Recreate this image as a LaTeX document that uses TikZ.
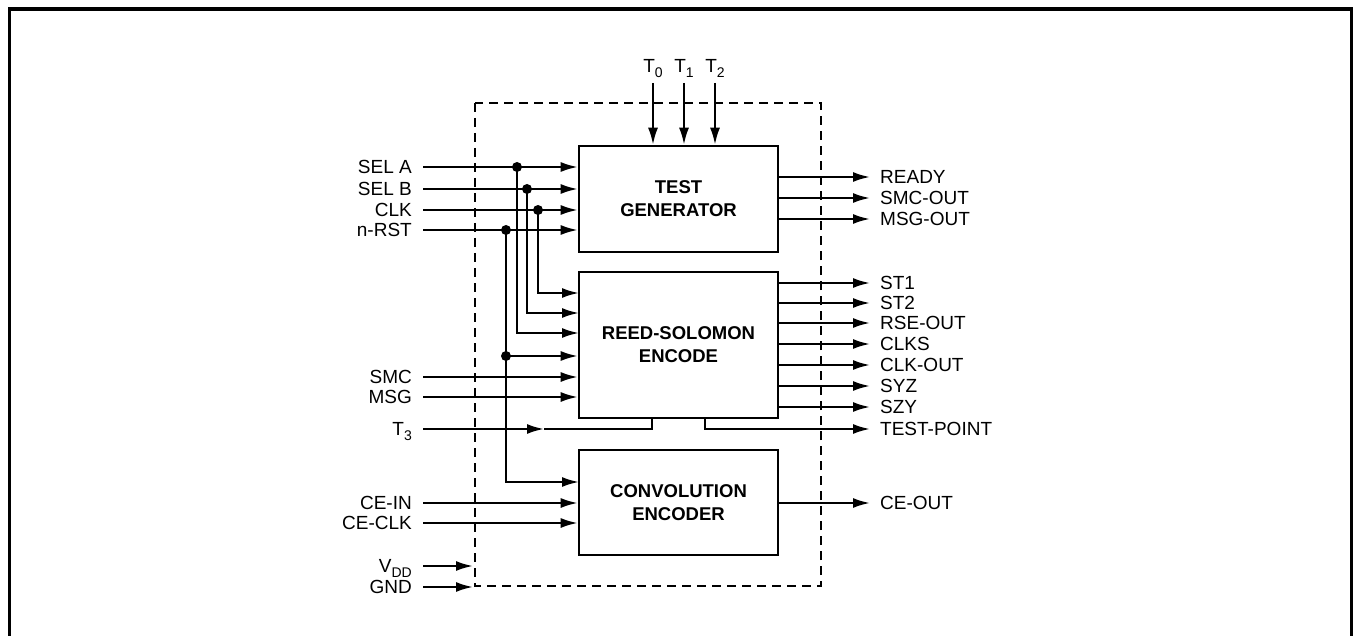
\documentclass[tikz,border=0pt]{standalone}
\usepackage{fontspec}
\setmainfont{Liberation Sans}
\usetikzlibrary{arrows.meta}
\newcommand\lowsub[1]{\raisebox{-4.5pt}{\fontsize{14}{14}\selectfont #1}}
\begin{document}
\begin{tikzpicture}[x=1pt,y=-1pt,
  sig/.style={line width=2.1pt},
  arr/.style={sig,-{Latex[length=17pt,width=10pt]}},
  blk/.style={draw,line width=2.6pt,inner sep=0pt,align=center,
    font=\fontsize{18.5}{23}\selectfont\bfseries,minimum width=199pt},
  lbl/.style={inner sep=0pt,text height=13pt,text depth=0pt,
    font=\fontsize{19}{22}\selectfont},
  inl/.style={lbl,anchor=east},
  outl/.style={lbl,anchor=west},
  dot/.style={circle,fill,inner sep=0pt,minimum size=10pt},
  dbox/.style={draw,dash pattern=on 9pt off 6pt,line width=2.2pt}]
\useasboundingbox (0,0) rectangle (1356,636);
% outer frame
\draw[line width=3.6pt] (9.5,645) -- (9.5,9) -- (1351.5,9) -- (1351.5,645);
% dashed package outline
\draw[dbox] (475,103) rectangle (821,586);
% blocks
\node[blk,minimum height=106pt] (tg) at (678.5,199) {TEST\\GENERATOR};
\node[blk,minimum height=146pt] (rs) at (678.5,345) {REED-SOLOMON\\ENCODE};
\node[blk,minimum height=105pt] (ce) at (678.5,502.5) {CONVOLUTION\\ENCODER};
% top test inputs
\node[lbl,anchor=base] (t0) at (653,73) {T\lowsub{0}};
\node[lbl,anchor=base] (t1) at (684,73) {T\lowsub{1}};
\node[lbl,anchor=base] (t2) at (715,73) {T\lowsub{2}};
\foreach \t in {t0,t1,t2}{\draw[arr] ([yshift=-10]\t.base) -- (\t.base |- tg.north);}
% left labels
\node[inl] (selA) at (412,167) {SEL A};
\node[inl] (selB) at (412,189) {SEL B};
\node[inl] (clk) at (412,210) {CLK};
\node[inl] (nrst) at (412,230) {n-RST};
\node[inl] (smc) at (412,377) {SMC};
\node[inl] (msg) at (412,397) {MSG};
\node[inl] (t3) at (412,429) {T\lowsub{3}};
\node[inl] (cein) at (412,503) {CE-IN};
\node[inl] (ceclk) at (412,523) {CE-CLK};
\node[inl] (vdd) at (412,566) {V\lowsub{DD}};
\node[inl] (gnd) at (412,587) {GND};
% inputs to test generator
\foreach \s in {selA,selB,clk,nrst}{\draw[arr] ([xshift=11]\s.east) -- (\s -| tg.west);}
% junctions
\coordinate (jA) at (517,167);
\coordinate (jB) at (527,189);
\coordinate (jC) at (538,210);
\coordinate (jR) at (506,230);
\coordinate (jR2) at (506,356);
\coordinate (rA) at (579,333);
\coordinate (rB) at (579,313);
\coordinate (rC) at (579,293);
\coordinate (cR) at (579,482);
\draw[arr] (jC) |- (rC);
\draw[arr] (jB) |- (rB);
\draw[arr] (jA) |- (rA);
\draw[sig] (jR) -- (jR2);
\draw[arr] (jR2) |- (cR);
\draw[arr] (jR2) -- (jR2 -| rs.west);
\foreach \j in {jA,jB,jC,jR,jR2}{\node[dot] at (\j) {};}
% other RS inputs
\draw[arr] ([xshift=11]smc.east) -- (smc -| rs.west);
\draw[arr] ([xshift=11]msg.east) -- (msg -| rs.west);
% T3 into RS bottom
\coordinate (t3a) at (544,429);
\coordinate (t3b) at (652,429);
\draw[arr] ([xshift=11]t3.east) -- (t3a);
\draw[sig] (t3a) -- (t3b) -- (t3b |- rs.south);
% CE inputs
\draw[arr] ([xshift=11]cein.east) -- (cein -| ce.west);
\draw[arr] ([xshift=11]ceclk.east) -- (ceclk -| ce.west);
% power
\coordinate (vddE) at (473,566);
\coordinate (gndE) at (473,587);
\draw[arr] ([xshift=11]vdd.east) -- (vddE);
\draw[arr] ([xshift=11]gnd.east) -- (gndE);
% outputs of test generator
\node[outl] (ready) at (880,177) {READY};
\node[outl] (smcout) at (880,198) {SMC-OUT};
\node[outl] (msgout) at (880,219) {MSG-OUT};
\foreach \o in {ready,smcout,msgout}{\draw[arr] (\o -| tg.east) -- ([xshift=-10]\o.west);}
% outputs of RS
\node[outl] (st1) at (880,283) {ST1};
\node[outl] (st2) at (880,303) {ST2};
\node[outl] (rseout) at (880,323) {RSE-OUT};
\node[outl] (clks) at (880,344) {CLKS};
\node[outl] (clkout) at (880,365) {CLK-OUT};
\node[outl] (syz) at (880,386) {SYZ};
\node[outl] (szy) at (880,407) {SZY};
\foreach \o in {st1,st2,rseout,clks,clkout,syz,szy}{\draw[arr] (\o -| rs.east) -- ([xshift=-10]\o.west);}
\node[outl] (tp) at (880,429) {TEST-POINT};
\coordinate (tpS) at (705,418);
\draw[arr] (tpS) |- ([xshift=-10]tp.west);
% CE output
\node[outl] (ceout) at (880,503) {CE-OUT};
\draw[arr] (ceout -| ce.east) -- ([xshift=-10]ceout.west);
\end{tikzpicture}
\end{document}
